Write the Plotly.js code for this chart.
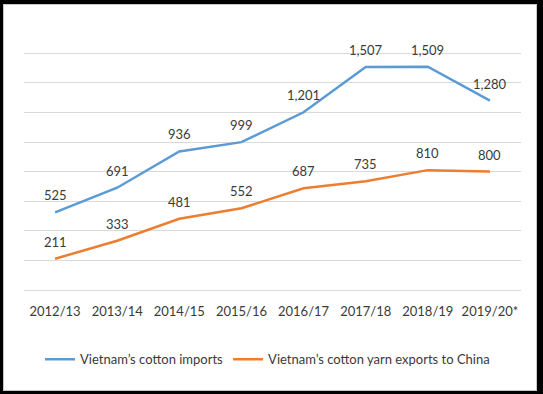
<!DOCTYPE html>
<html>
<head>
<meta charset="utf-8">
<script src="https://cdn.plot.ly/plotly-3.0.1.min.js"></script>
<style>
  html, body { margin: 0; padding: 0; background: #000; width: 543px; height: 394px; overflow: hidden; }
  #chart { position: absolute; left: 3px; top: 4px; width: 532px; height: 385px; background: #fff; border: 1px solid #c8c8c8; }
</style>
</head>
<body>
<div id="chart"></div>
<script>
const categories = ["2012/13", "2013/14", "2014/15", "2015/16", "2016/17", "2017/18", "2018/19", "2019/20*"];
const cottonImports = [525, 691, 936, 999, 1201, 1507, 1509, 1280];
const yarnExports = [211, 333, 481, 552, 687, 735, 810, 800];
const seriesNames = ["Vietnam’s cotton imports", "Vietnam’s cotton yarn exports to China"];
const seriesColors = ["#5B9BD5", "#ED7D31"];

const fontFam = "Lato, 'Open Sans', sans-serif";
const textColor = "#3a3a3a";

function fmt(v) { return v.toLocaleString("en-US"); }

const traces = [cottonImports, yarnExports].map((vals, i) => ({
  type: "scatter",
  mode: "lines",
  x: categories,
  y: vals,
  name: seriesNames[i],
  line: { color: seriesColors[i], width: 2.5 },
  hoverinfo: "skip"
}));

const annotations = [];
[cottonImports, yarnExports].forEach(vals => {
  vals.forEach((v, j) => {
    annotations.push({
      x: categories[j], y: v, xref: "x", yref: "y",
      text: fmt(v), showarrow: false, yshift: 17,
      font: { family: fontFam, size: 13, color: textColor }
    });
  });
});

const layout = {
  width: 532, height: 385,
  margin: { l: 20, r: 15, t: 46, b: 100 },
  paper_bgcolor: "#fff",
  plot_bgcolor: "#fff",
  showlegend: true,
  legend: {
    orientation: "h", x: 0.49, xanchor: "center", y: -0.29, yanchor: "middle",
    font: { family: fontFam, size: 13, color: textColor },
    itemwidth: 30, tracegroupgap: 0
  },
  xaxis: {
    type: "category",
    range: [-0.5, categories.length - 0.5],
    showgrid: false, zeroline: false, showline: false,
    ticks: "outside", ticklen: 9, tickcolor: "rgba(0,0,0,0)",
    tickfont: { family: fontFam, size: 13, color: textColor },
    fixedrange: true
  },
  yaxis: {
    range: [0, 1615], dtick: 200, tick0: 0,
    showticklabels: false, showgrid: true, gridcolor: "#d9d9d9", gridwidth: 1,
    zeroline: true, zerolinecolor: "#d9d9d9", zerolinewidth: 1,
    showline: false, fixedrange: true
  },
  annotations: annotations
};

Plotly.newPlot("chart", traces, layout, { displayModeBar: false, staticPlot: true });
</script>
</body>
</html>
